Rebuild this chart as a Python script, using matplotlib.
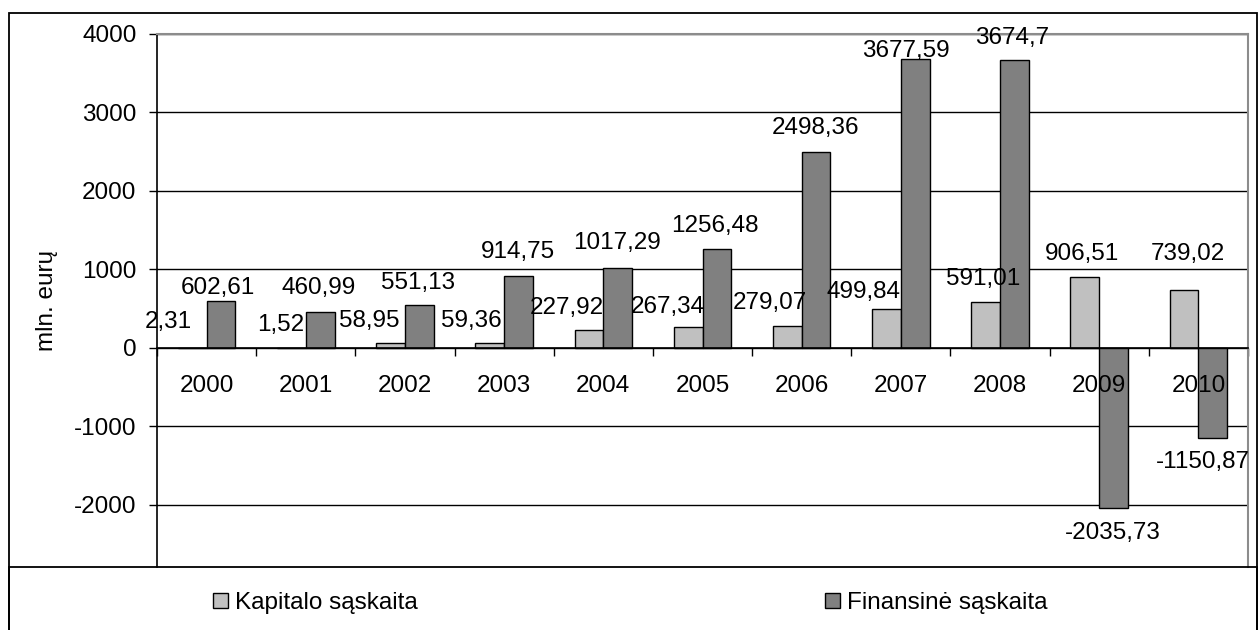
"""Capital and financial account balance by year, grouped bar chart."""

import numpy as np
import matplotlib

matplotlib.use("Agg")
import matplotlib.pyplot as plt
from matplotlib.patches import Patch, Rectangle

plt.rcParams["font.family"] = ["Liberation Sans", "DejaVu Sans"]

years = ["2000", "2001", "2002", "2003", "2004", "2005", "2006", "2007", "2008", "2009", "2010"]
kapitalo = [2.31, 1.52, 58.95, 59.36, 227.92, 267.34, 279.07, 499.84, 591.01, 906.51, 739.02]
finansine = [602.61, 460.99, 551.13, 914.75, 1017.29, 1256.48, 2498.36, 3677.59, 3674.7, -2035.73, -1150.87]
series_names = ["Kapitalo sąskaita", "Finansinė sąskaita"]
y_ticks = [-2000, -1000, 0, 1000, 2000, 3000, 4000]

LIGHT = "#c0c0c0"
DARK = "#808080"
FS = 17.5
BAR_W = 0.29
PX = 0.72  # pixels -> points at 100 dpi

# label nudges (pixels) copying the hand-placed labels of the original
light_nudge = [(-24, 26), (-11, 23), (-21, 22), (-18, 22), (-22, 22), (-20, 20),
               (-17, 23), (-23, 17), (-3, 23), (-3, 23), (4, 36)]
dark_nudge = [(-3, 13), (-2, 24), (-1, 22), (-1, 24), (-1, 25), (-2, 23),
              (-1, 24), (-9, 8), (-2, 22), (-1, -25), (-10, -24)]


def fmt(value):
    return str(value).replace(".", ",")


fig = plt.figure(figsize=(12.59, 6.30), dpi=100)
ax = fig.add_axes([157 / 1259, 1 - 567 / 630, (1248 - 157) / 1259, (567 - 34) / 630])

x = np.arange(len(years))
ax.bar(x - BAR_W / 2, kapitalo, BAR_W, color=LIGHT, edgecolor="black", linewidth=1, zorder=3)
ax.bar(x + BAR_W / 2, finansine, BAR_W, color=DARK, edgecolor="black", linewidth=1, zorder=3)

for i in range(len(years)):
    for xpos, val, (dx, dy) in ((x[i] - BAR_W / 2, kapitalo[i], light_nudge[i]),
                                 (x[i] + BAR_W / 2, finansine[i], dark_nudge[i])):
        ax.annotate(fmt(val), (xpos, val), xytext=(dx * PX, dy * PX), textcoords="offset points",
                    ha="center", va="center", fontsize=FS, zorder=4)

# category names sit inside the plot, drawn over the bars like the original
for xi, year in zip(x, years):
    ax.annotate(year, (xi, 0), xytext=(0, -38 * PX), textcoords="offset points",
                ha="center", va="center", fontsize=FS, zorder=5)

ax.set_xlim(-0.5, len(years) - 0.5)
ax.set_ylim(-2790, 4000)
ax.set_yticks(y_ticks)
ax.set_yticklabels([str(t) for t in y_ticks])
ax.yaxis.grid(True, color="black", linewidth=1)
ax.set_axisbelow(True)
ax.tick_params(axis="y", direction="out", length=5.8, width=1, pad=9, labelsize=FS)

ax.spines["bottom"].set_position(("data", 0))
ax.spines["bottom"].set_linewidth(1.2)
ax.spines["bottom"].set_zorder(4)
ax.spines["left"].set_linewidth(1.2)
for side in ("top", "right"):
    ax.spines[side].set_color("#8c8c8c")
    ax.spines[side].set_linewidth(1.5)

ax.set_xticks(x)
ax.set_xticklabels([])
ax.set_xticks(np.arange(-0.5, len(years)), minor=True)
ax.tick_params(axis="x", which="major", length=0)
ax.tick_params(axis="x", which="minor", direction="out", length=5.8, width=1)

ax.set_ylabel("mln. eurų", fontsize=FS)
ax.yaxis.set_label_coords(-0.091, 0.5)

# outer frame and legend frame
fig.patches.append(Rectangle((9 / 1259, -0.05), (1257 - 9) / 1259, 1.05 - 13 / 630,
                             transform=fig.transFigure, fill=False, edgecolor="black", linewidth=1.3))
fig.patches.append(Rectangle((9 / 1259, -0.05), (1257 - 9) / 1259, 0.05 + 1 - 567 / 630,
                             transform=fig.transFigure, fill=False, edgecolor="black", linewidth=1.3))

for name, color, xf in ((series_names[0], LIGHT, 213 / 1259), (series_names[1], DARK, 825 / 1259)):
    fig.legend(handles=[Patch(facecolor=color, edgecolor="black", linewidth=1, label=name)],
               loc="center left", bbox_to_anchor=(xf, 1 - 603 / 630), frameon=False, fontsize=FS,
               borderpad=0, borderaxespad=0, handlelength=0.6, handleheight=0.6, handletextpad=0.3)

fig.savefig("out.png", dpi=100)
